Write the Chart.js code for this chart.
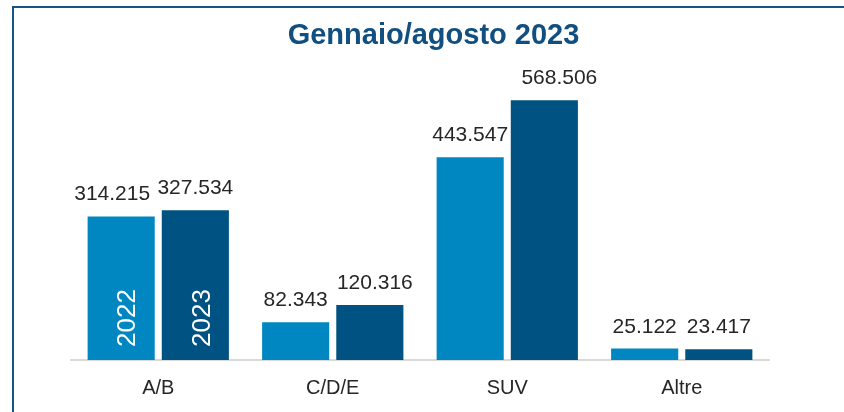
<!DOCTYPE html>
<html>
<head>
<meta charset="utf-8">
<script src="https://cdn.jsdelivr.net/npm/chart.js@4.4.0/dist/chart.umd.min.js"></script>
<style>
    html, body { margin: 0; padding: 0; background: #fff; overflow: hidden; width: 844px; height: 412px; }
    #frame { position: absolute; left: 12px; top: 6px; width: 900px; height: 500px; border: 2px solid #175488; }
    #wrap { position: absolute; left: 0; top: 0; width: 844px; height: 428px; }
</style>
</head>
<body>
<div id="frame"></div>
<div id="wrap"><canvas id="barChart" width="844" height="428"></canvas></div>
<script>
    var categories = ['A/B', 'C/D/E', 'SUV', 'Altre'];
    var seriesLabels = ['2022', '2023'];
    var values2022 = [314215, 82343, 443547, 25122];
    var values2023 = [327534, 120316, 568506, 23417];

    var FONT = "'Liberation Sans', Arial, sans-serif";

    function fmt(v) {
        return String(v).replace(/\B(?=(\d{3})+(?!\d))/g, '.');
    }

    // value labels above the bars + year written inside the first pair
    var barLabels = {
        id: 'barLabels',
        afterDatasetsDraw: function(chart, args, opts) {
            var ctx = chart.ctx;
            chart.data.datasets.forEach(function(ds, i) {
                var meta = chart.getDatasetMeta(i);
                meta.data.forEach(function(bar, j) {
                    var dx = (opts.nudge[i] || [])[j] || 0;
                    ctx.save();
                    ctx.fillStyle = '#262626';
                    ctx.font = '21px ' + FONT;
                    ctx.textAlign = 'center';
                    ctx.textBaseline = 'alphabetic';
                    ctx.fillText(fmt(ds.data[j]), bar.x + dx, bar.y - 16);
                    ctx.restore();
                });
                var first = meta.data[0];
                ctx.save();
                ctx.translate(first.x + 7, first.base - 13);
                ctx.rotate(-Math.PI / 2);
                ctx.fillStyle = '#ffffff';
                ctx.font = '26px ' + FONT;
                ctx.textAlign = 'left';
                ctx.textBaseline = 'middle';
                ctx.fillText(ds.label, 0, 0);
                ctx.restore();
            });
        }
    };

    var ctxBar = document.getElementById('barChart').getContext('2d');
    var barChart = new Chart(ctxBar, {
        type: 'bar',
        data: {
            labels: categories,
            datasets: [{
                label: seriesLabels[0],
                data: values2022,
                backgroundColor: '#0087c1',
                borderWidth: 0
            }, {
                label: seriesLabels[1],
                data: values2023,
                backgroundColor: '#005282',
                borderWidth: 0
            }]
        },
        plugins: [barLabels],
        options: {
            responsive: false,
            animation: false,
            categoryPercentage: 0.85,
            barPercentage: 0.905,
            layout: {
                padding: { left: 71, right: 48, top: 0, bottom: 12 }
            },
            plugins: {
                legend: { display: false },
                tooltip: { enabled: false },
                title: {
                    display: true,
                    text: 'Gennaio/agosto 2023',
                    color: '#104f80',
                    font: { family: FONT, size: 29, weight: 'bold', lineHeight: 1.2 },
                    padding: { top: 19, bottom: 32 }
                },
                barLabels: {
                    nudge: [[-9, 0, 0, 0], [0, 5, 15, 0]]
                }
            },
            scales: {
                x: {
                    grid: { display: false, drawTicks: false },
                    border: { display: true, color: '#d9d9d9', width: 2 },
                    ticks: {
                        color: '#262626',
                        padding: 16,
                        font: { family: FONT, size: 20 }
                    }
                },
                y: {
                    position: 'right',
                    min: 0,
                    max: 600000,
                    grid: { display: false, drawTicks: false },
                    border: { display: false },
                    ticks: { display: false },
                    afterFit: function(scale) {
                        scale.width = 27;
                    }
                }
            }
        }
    });
</script>
</body>
</html>
